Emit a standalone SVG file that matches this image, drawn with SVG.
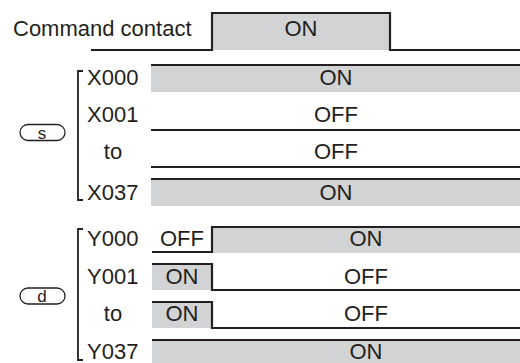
<svg xmlns="http://www.w3.org/2000/svg" width="520" height="363" viewBox="0 0 520 363">
<style>
.t{font-family:"Liberation Sans",Arial,sans-serif;font-size:22px;fill:#231f20}
.m{text-anchor:middle}
.w{fill:none;stroke:#231f20;stroke-width:2.2}
.g{fill:#d2d3d5}
.p{fill:none;stroke:#231f20;stroke-width:1.3}
.b{fill:none;stroke:#231f20;stroke-width:1.8}
</style>
<rect width="520" height="363" fill="#fff"/>
<g id="command">
<rect class="g" x="212" y="13" width="178" height="37"/>
<polyline class="w" points="91,50 212,50 212,13 390,13 390,50 520,50"/>
<text class="t" x="13" y="36">Command contact</text>
<text class="t m" x="301" y="36">ON</text>
</g>
<g id="s-label">
<rect class="p" x="20" y="124.5" width="45" height="16" rx="8"/>
<text class="t m" x="42" y="139" style="font-size:17px">s</text>
<polyline class="b" points="83,71 78,71 78,200 83,200"/>
</g>
<g id="X000">
<rect class="g" x="151" y="65" width="369" height="27"/>
<line class="w" x1="151" y1="65" x2="520" y2="65"/>
<text class="t" x="87" y="85">X000</text>
<text class="t m" x="336" y="85">ON</text>
</g>
<g id="X001">
<line class="w" x1="151" y1="130" x2="520" y2="130"/>
<text class="t" x="87" y="122">X001</text>
<text class="t m" x="336" y="122">OFF</text>
</g>
<g id="X-to">
<line class="w" x1="151" y1="167" x2="520" y2="167"/>
<text class="t m" x="113" y="159">to</text>
<text class="t m" x="336" y="159">OFF</text>
</g>
<g id="X037">
<rect class="g" x="151" y="179" width="369" height="27"/>
<line class="w" x1="151" y1="179" x2="520" y2="179"/>
<text class="t" x="87" y="200">X037</text>
<text class="t m" x="336" y="200">ON</text>
</g>
<g id="d-label">
<rect class="p" x="20" y="288" width="45" height="16" rx="8"/>
<text class="t m" x="42" y="302" style="font-size:17px">d</text>
<polyline class="b" points="83,229 78,229 78,360 83,360"/>
</g>
<g id="Y000">
<rect class="g" x="212" y="227" width="308" height="26"/>
<polyline class="w" points="152,252 212,252 212,227 520,227"/>
<text class="t" x="87" y="246">Y000</text>
<text class="t m" x="182" y="246">OFF</text>
<text class="t m" x="366" y="246">ON</text>
</g>
<g id="Y001">
<rect class="g" x="152" y="264" width="60" height="26"/>
<polyline class="w" points="152,264 212,264 212,290 520,290"/>
<text class="t" x="87" y="284">Y001</text>
<text class="t m" x="182" y="284">ON</text>
<text class="t m" x="366" y="284">OFF</text>
</g>
<g id="Y-to">
<rect class="g" x="152" y="302" width="60" height="26"/>
<polyline class="w" points="152,302 212,302 212,328 520,328"/>
<text class="t m" x="113" y="321">to</text>
<text class="t m" x="182" y="321">ON</text>
<text class="t m" x="366" y="321">OFF</text>
</g>
<g id="Y037">
<rect class="g" x="152" y="340" width="368" height="23"/>
<line class="w" x1="152" y1="340" x2="520" y2="340"/>
<text class="t" x="87" y="359">Y037</text>
<text class="t m" x="366" y="359">ON</text>
</g>
</svg>
